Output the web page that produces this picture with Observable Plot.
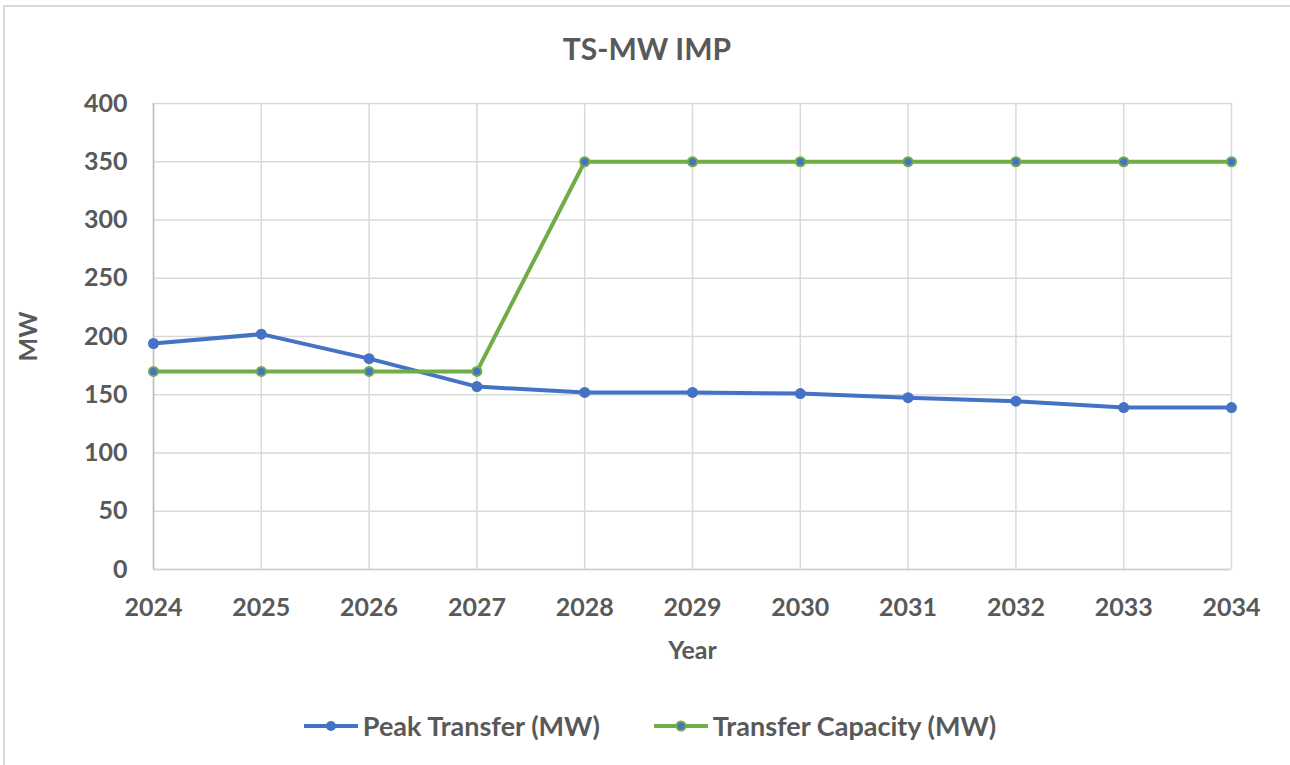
<!DOCTYPE html>
<html>
<head>
<meta charset="utf-8">
<script src="https://cdn.jsdelivr.net/npm/d3@7"></script>
<script src="https://cdn.jsdelivr.net/npm/@observablehq/plot@0.6"></script>
<style>
  html, body { margin: 0; padding: 0; background: #fff; }
  #page { position: relative; width: 1290px; height: 765px; overflow: hidden; font-family: Lato, "Open Sans", sans-serif; color: #595959; }
  #frame { position: absolute; left: 3px; top: 5px; width: 1290px; height: 800px; border: 2px solid #d9d9d9; box-sizing: border-box; }
  #title { position: absolute; left: 0; top: 30px; width: 1290px; text-align: center; font-size: 30px; font-weight: 700; line-height: 36px; padding-left: 4px; box-sizing: border-box; }
  #chart { position: absolute; left: 0; top: 80px; }
  #legend { position: absolute; left: 0; top: 708px; width: 1290px; display: flex; justify-content: center; align-items: center; gap: 54px; font-size: 27px; font-weight: 700; line-height: 36px; padding-left: 10px; box-sizing: border-box; }
  .item { display: flex; align-items: center; gap: 5px; }
</style>
</head>
<body>
<div id="page">
  <div id="frame"></div>
  <div id="title">TS-MW IMP</div>
  <div id="chart"></div>
  <div id="legend"></div>
</div>
<script>
const years = [2024, 2025, 2026, 2027, 2028, 2029, 2030, 2031, 2032, 2033, 2034];
const peakTransfer = [194, 202, 181, 157, 152, 152, 151, 147.5, 144.5, 139, 139];
const transferCapacity = [170, 170, 170, 170, 350, 350, 350, 350, 350, 350, 350];
const seriesNames = ["Peak Transfer (MW)", "Transfer Capacity (MW)"];
const yTicks = [0, 50, 100, 150, 200, 250, 300, 350, 400];

const colors = {"Peak Transfer (MW)": "#4472C4", "Transfer Capacity (MW)": "#70AD47"};

const data = [];
years.forEach((y, i) => {
  data.push({year: y, value: peakTransfer[i], series: seriesNames[0]});
});
years.forEach((y, i) => {
  data.push({year: y, value: transferCapacity[i], series: seriesNames[1]});
});
const peak = data.filter(d => d.series === seriesNames[0]);
const cap = data.filter(d => d.series === seriesNames[1]);

const grid = "#d9d9d9";
const chart = Plot.plot({
  width: 1290,
  height: 600,
  marginLeft: 153,
  marginRight: 59,
  marginTop: 23,
  marginBottom: 111,
  style: {fontFamily: "Lato, 'Open Sans', sans-serif", fontSize: "25px", fontWeight: "700", color: "#595959", background: "transparent"},
  x: {domain: [2024, 2034]},
  y: {domain: [0, 400]},
  marks: [
    Plot.gridX(years, {stroke: grid, strokeOpacity: 1, strokeWidth: 1.5}),
    Plot.gridY(yTicks, {stroke: grid, strokeOpacity: 1, strokeWidth: 1.5}),
    Plot.ruleX([2024], {stroke: "#bfbfbf", strokeWidth: 1.5}),
    Plot.ruleY([0], {stroke: "#d0d0d0", strokeWidth: 1.5}),
    Plot.axisX(years, {tickSize: 0, tickPadding: 29, tickFormat: d => String(d), fontSize: 25, fill: "#595959",
      label: "Year", labelAnchor: "center", labelArrow: "none", labelOffset: 89}),
    Plot.axisY(yTicks, {tickSize: 0, tickPadding: 26, fontSize: 25, fill: "#595959",
      label: "MW", labelAnchor: "center", labelArrow: "none", labelOffset: 134}),
    Plot.line(data, {x: "year", y: "value", z: "series", stroke: d => colors[d.series], strokeWidth: 4, strokeLinejoin: "round"}),
    Plot.dot(peak, {x: "year", y: "value", r: 5.5, fill: colors[seriesNames[0]], stroke: "none"}),
    Plot.dot(cap, {x: "year", y: "value", r: 4.5, fill: colors[seriesNames[0]], stroke: colors[seriesNames[1]], strokeWidth: 2})
  ]
});
document.getElementById("chart").appendChild(chart);

const legend = document.getElementById("legend");
seriesNames.forEach((name, i) => {
  const item = document.createElement("div");
  item.className = "item";
  const stroke = colors[name];
  const dotStroke = i === 0 ? "none" : colors[seriesNames[1]];
  item.innerHTML = `<svg width="54" height="16"><line x1="1" y1="8" x2="53" y2="8" stroke="${stroke}" stroke-width="4" stroke-linecap="round"/><circle cx="27" cy="8" r="${i === 0 ? 5 : 4.5}" fill="${colors[seriesNames[0]]}" stroke="${dotStroke}" stroke-width="2"/></svg><span>${name}</span>`;
  legend.appendChild(item);
});
</script>
</body>
</html>
